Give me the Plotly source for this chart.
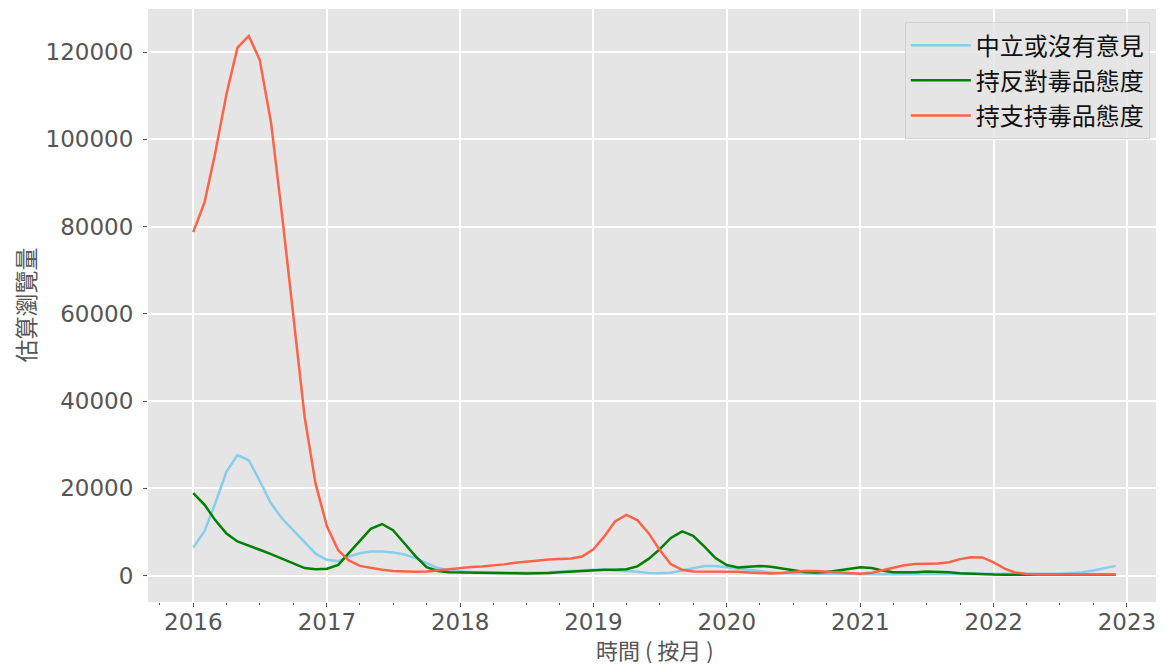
import pandas as pd
import plotly.graph_objects as go

months = pd.date_range("2016-01-01", periods=84, freq="MS")

neutral = [
    6400, 10200, 16500, 23800, 27600, 26400, 21700, 16500, 13000, 10300, 7600, 5000,
    3600, 3300, 4300, 5100, 5500, 5500, 5300, 4800, 4000, 2900, 1700, 1100,
    900, 800, 750, 700, 650, 600, 600, 650, 750, 900, 1050, 1200,
    1300, 1300, 1200, 1000, 850, 600, 500, 650, 1150, 1700, 2200, 2200,
    1900, 1500, 1150, 900, 700, 600, 500, 450, 400, 400, 350, 350,
    300, 300, 300, 300, 300, 300, 300, 300, 300, 300, 300, 300,
    300, 300, 300, 300, 300, 330, 400, 550, 750, 1150, 1650, 2200,
]

against = [
    18900, 16200, 12700, 9600, 7800, 6900, 5900, 4900, 3800, 2700, 1700, 1450,
    1550, 2450, 5100, 8100, 10700, 11800, 10400, 7400, 4400, 1900, 1050, 760,
    690, 650, 620, 600, 550, 500, 480, 500, 600, 750, 900, 1100,
    1250, 1300, 1300, 1450, 2100, 3800, 6000, 8600, 10100, 9100, 6600, 4000,
    2400, 1850, 2000, 2200, 2000, 1550, 1100, 800, 700, 800, 1150, 1600,
    1900, 1700, 1150, 760, 690, 760, 900, 900, 760, 530, 380, 300,
    230, 200, 200, 200, 200, 200, 200, 200, 200, 200, 200, 200,
]

support = [
    78700, 85600, 96800, 110400, 121000, 123700, 118200, 103800, 82000, 59000, 36300, 21000,
    11300, 5800, 3500, 2200, 1700, 1300, 1050, 900, 850, 900, 1150, 1500,
    1800, 1950, 2050, 2250, 2550, 2900, 3200, 3450, 3650, 3800, 3900, 4350,
    6000, 9100, 12400, 13900, 12700, 9700, 5900, 2600, 1300, 900, 900, 900,
    900, 850, 700, 500, 450, 550, 800, 1050, 1050, 900, 650, 450,
    400, 650, 1150, 1800, 2350, 2650, 2700, 2750, 3050, 3750, 4200, 4150,
    3000, 1500, 700, 350, 250, 230, 230, 230, 230, 230, 230, 230,
]

series_names = ["中立或沒有意見", "持反對毒品態度", "持支持毒品態度"]
series_colors = ["#87CEEB", "#008000", "#FF6347"]

x_ticks = ["2016-01-01", "2017-01-01", "2018-01-01", "2019-01-01",
           "2020-01-01", "2021-01-01", "2022-01-01", "2023-01-01"]
x_tick_text = ["2016", "2017", "2018", "2019", "2020", "2021", "2022", "2023"]
y_ticks = [0, 20000, 40000, 60000, 80000, 100000, 120000]

x_title = "時間 ( 按月 )"
y_title = "估算瀏覽量"

fig = go.Figure()
for i, (name, vals, col) in enumerate(zip(series_names, [neutral, against, support], series_colors)):
    fig.add_trace(go.Scatter(x=months, y=vals, mode="lines", name=name,
                             legendgroup=f"g{i}",
                             line=dict(color=col, width=2.5)))

base_font = "DejaVu Sans, Noto Sans CJK TC, sans-serif"
cjk_font = "Noto Sans CJK TC, DejaVu Sans, sans-serif"

# page has an 8px body margin, so the figure is sized/offset accordingly
W, H = 1156, 656
ML, MR, MT, MB = 140, 2, 1, 62
pw = W - ML - MR
ph = H - MT - MB

fig.update_layout(
    width=W, height=H,
    margin=dict(l=ML, r=MR, t=MT, b=MB),
    paper_bgcolor="white",
    plot_bgcolor="#E5E5E5",
    font=dict(family=base_font, color="#555555", size=23),
    showlegend=True,
    legend=dict(
        x=0.988, y=0.978, xanchor="right", yanchor="top",
        bgcolor="rgba(229,229,229,0.8)",
        bordercolor="rgba(204,204,204,0.8)", borderwidth=1,
        font=dict(family=cjk_font, size=24, color="#111111"),
        itemwidth=60,
        tracegroupgap=1,
    ),
    annotations=[
        dict(text=x_title, xref="paper", yref="paper",
             x=0.5, y=-(641 - (H - MB)) / ph, xanchor="center", yanchor="middle",
             showarrow=False, font=dict(family=cjk_font, size=22, color="#555555")),
        dict(text=y_title, xref="paper", yref="paper",
             x=-(ML - 16) / pw, y=0.5, xanchor="center", yanchor="middle",
             textangle=-90,
             showarrow=False, font=dict(family=cjk_font, size=23, color="#555555")),
    ],
)

fig.update_xaxes(
    type="date",
    range=["2015-08-30", "2023-04-07"],
    tickvals=x_ticks, ticktext=x_tick_text,
    ticks="outside", ticklen=4, tickcolor="#555555", tickwidth=1,
    ticklabelstandoff=-5,
    tickfont=dict(family=base_font, size=23, color="#555555"),
    showgrid=True, gridcolor="white", gridwidth=1.5,
    zeroline=False, showline=False, automargin=False,
    minor=dict(dtick="M3", tick0="2016-01-01", ticks="outside", ticklen=2,
               tickcolor="#555555", showgrid=False),
)

fig.update_yaxes(
    range=[-6075, 129860],
    tickvals=y_ticks, ticktext=[str(v) for v in y_ticks],
    ticks="outside", ticklen=4, tickcolor="#555555", tickwidth=1,
    ticklabelstandoff=5,
    tickfont=dict(family=base_font, size=23, color="#555555"),
    showgrid=True, gridcolor="white", gridwidth=1.5,
    zeroline=False, showline=False, automargin=False,
)

fig.write_html("out.html")
